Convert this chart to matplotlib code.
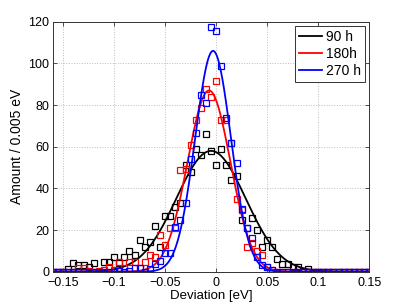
import numpy as np
import matplotlib
matplotlib.use('Agg')
import matplotlib.pyplot as plt

plt.rcParams['font.family'] = ['Liberation Sans', 'DejaVu Sans']

# bin centres, 0.005 eV wide
dev = np.round(np.arange(-0.16, 0.1501, 0.005), 3)

amt_90 = [0, 0, 0, 1.2, 4, 3.2, 3.2, 2.4, 4, 0,
          4.8, 4.8, 6.9, 4, 6.9, 10, 8, 15, 12, 14.4,
          22, 12, 26.7, 26.7, 31, 33, 51, 47.7, 59, 56,
          66, 58, 51, 59, 51, 44, 46, 25, 21, 26,
          20, 12, 15, 12, 6.2, 3.8, 3.6, 2.2, 2.1, 0.5,
          1.4, 0, 0, 0, 0, 0, 0, 0, 0, 0,
          0, 0, 0]
amt_180 = [0, 0, 0, 0, 0, 2, 2, 0.5, 0, 0.5,
           1, 2.5, 1, 4.5, 2, 4.5, 4.5, 2, 4.5, 8,
           7.2, 17.6, 12.8, 20.8, 20.8, 48.8, 49.3, 61, 73, 78.7,
           87.6, 83.7, 91.7, 72.8, 72.8, 62, 35, 29.6, 12, 14,
           10, 8, 2.4, 0.8, 0, 0, 0, 0, 0, 0,
           0, 0, 0, 0, 0, 0, 0, 0, 0, 0,
           0, 0, 0]
amt_270 = [0, 0, 0, 0, 0, 0, 0, 0, 0, 0,
           0, 0, 0, 0.5, 0, 0.5, 2, 1.6, 0, 1.5,
           3.5, 5, 9, 9, 21.6, 24.8, 33, 54, 66.7, 84.8,
           80.8, 117.6, 115.7, 98.9, 73.9, 61.6, 52, 30, 21, 16,
           7.2, 3.2, 2.4, 0.8, 0, 0, 0, 0, 0, 0,
           0, 0, 0, 0, 0, 0, 0, 0, 0, 0,
           0, 0, 0]

# gaussian fit parameters: amplitude, centre [eV], sigma [eV]
fit_90 = (58, -0.005, 0.034)
fit_180 = (87, -0.007, 0.021)
fit_270 = (106, -0.003, 0.0175)

labels = ['90 h', '180h', '270 h']
colors = ['k', 'r', 'b']

fig = plt.figure(figsize=(4.07, 3.06), dpi=100)
ax = fig.add_axes([0.130, 0.112, 0.777, 0.817])

xf = np.linspace(-0.16, 0.15, 600)
lines = []
for amt, fit, c, lab in zip([amt_90, amt_180, amt_270],
                            [fit_90, fit_180, fit_270], colors, labels):
    ax.plot(dev, amt, 's', mfc='none', mec=c, ms=4.2, mew=0.9)
    a, mu, s = fit
    ln, = ax.plot(xf, a * np.exp(-(xf - mu) ** 2 / (2 * s ** 2)), '-',
                  color=c, lw=1.3, label=lab)
    lines.append(ln)

ax.set_xlim(-0.16, 0.15)
ax.set_ylim(0, 120)
ax.set_xticks([-0.15, -0.1, -0.05, 0, 0.05, 0.1, 0.15])
ax.set_xticklabels(['\u22120.15', '\u22120.1', '\u22120.05', '0', '0.05', '0.1', '0.15'])
ax.set_yticks(range(0, 121, 20))
ax.tick_params(direction='in', top=True, right=True, labelsize=9,
               length=3, width=0.6, color='#333333')
ax.tick_params(axis='x', pad=3.5)
ax.tick_params(axis='y', pad=2.5)
ax.grid(True, ls=':', color='#bdbdbd', lw=0.7)
for sp in ax.spines.values():
    sp.set_color('#333333')
    sp.set_linewidth(0.7)

ax.set_xlabel('Deviation [eV]', fontsize=9.5, labelpad=1)
ax.set_ylabel('Amount / 0.005 eV', fontsize=10, labelpad=3)

leg = ax.legend(handles=lines, loc='upper right', fontsize=10, frameon=True,
                fancybox=False, handlelength=1.7, handletextpad=0.25,
                borderpad=0.3, labelspacing=0.2, borderaxespad=0.3)
leg.get_frame().set_edgecolor('#333333')
leg.get_frame().set_linewidth(0.7)
leg.get_frame().set_alpha(1)

fig.savefig('out.png', dpi=100)
